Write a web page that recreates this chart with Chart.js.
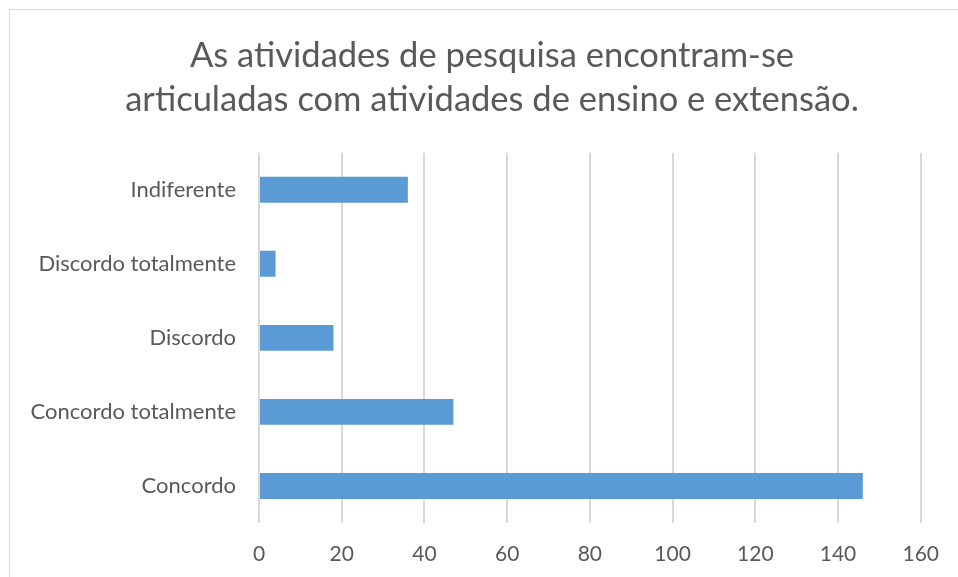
<!DOCTYPE html>
<html>
<head>
<meta charset="utf-8">
<script src="https://cdn.jsdelivr.net/npm/chart.js@4"></script>
<style>
  body { margin: 0; background: #fff; }
  #wrap { position: relative; width: 958px; height: 577px; }
  #moldura { position: absolute; left: 9px; top: 9px; width: 960px; height: 580px; border: 1px solid #d9d9d9; box-sizing: border-box; }
  canvas { position: absolute; left: 0; top: 0; }
</style>
</head>
<body>
<div id="wrap">
  <div id="moldura"></div>
  <canvas id="grafico-pesquisa" width="958" height="577"></canvas>
</div>
<script>
// dados
const categorias = ['Indiferente', 'Discordo totalmente', 'Discordo', 'Concordo totalmente', 'Concordo'];
const respostas = [36, 4, 18, 47, 146];
const titulo = ['As atividades de pesquisa encontram-se', 'articuladas com atividades de ensino e extensão.'];

const fonte = 'Lato, "Open Sans", sans-serif';
const corTexto = '#595959';

// centraliza o título um pouco mais à direita, como no original
const ajusteTitulo = {
  id: 'ajusteTitulo',
  afterLayout(chart) {
    if (chart.titleBlock) {
      chart.titleBlock.left = 60;
      chart.titleBlock.right = 924;
    }
  }
};

const ctx = document.getElementById('grafico-pesquisa');

new Chart(ctx, {
  type: 'bar',
  data: {
    labels: categorias,
    datasets: [{
      label: 'Respostas',
      data: respostas,
      backgroundColor: '#5B9BD5',
      barPercentage: 0.35,
      categoryPercentage: 1
    }]
  },
  options: {
    indexAxis: 'y',
    responsive: false,
    animation: false,
    layout: { padding: { left: 10, right: 35, top: 0, bottom: 0 } },
    plugins: {
      legend: { display: false },
      tooltip: { enabled: false },
      title: {
        display: true,
        text: titulo,
        color: corTexto,
        font: { family: fonte, size: 34.5, weight: 'normal', lineHeight: 1.3 },
        padding: { top: 33, bottom: 30 }
      }
    },
    scales: {
      x: {
        min: 0,
        max: 160,
        ticks: { stepSize: 20, color: corTexto, font: { family: fonte, size: 21 }, padding: 19 },
        grid: { color: '#d9d9d9', lineWidth: 2, drawTicks: false },
        border: { display: false },
        afterFit: (s) => { s.height = 54; }
      },
      y: {
        ticks: { color: corTexto, font: { family: fonte, size: 22 }, padding: 23 },
        grid: { display: false, drawTicks: false },
        border: { display: false },
        afterFit: (s) => { s.width = 249; }
      }
    }
  },
  plugins: [ajusteTitulo]
});
</script>
</body>
</html>
